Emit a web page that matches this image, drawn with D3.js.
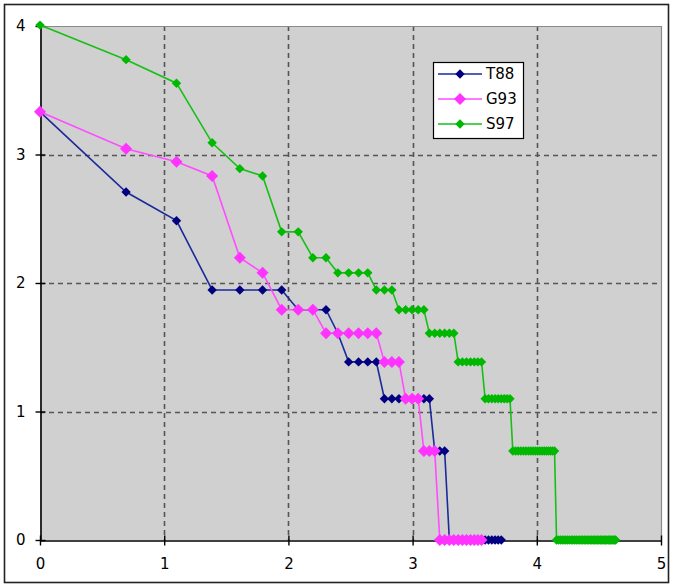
<!DOCTYPE html>
<html>
<head>
<meta charset="utf-8">
<script src="https://cdn.jsdelivr.net/npm/d3@7"></script>
<style>
  html, body { margin: 0; padding: 0; background: #fff; }
  svg { display: block; }
  text { font-family: "DejaVu Sans", Verdana, sans-serif; }
</style>
</head>
<body>
<svg id="chart" width="673" height="586"></svg>
<script>
// x positions (shared by all series, ln of rank)
const xValues = [0.000,0.693,1.099,1.386,1.609,1.792,1.946,2.079,2.197,2.303,
  2.398,2.485,2.565,2.639,2.708,2.773,2.833,2.890,2.944,2.996,
  3.045,3.091,3.135,3.178,3.219,3.258,3.296,3.332,3.367,3.401,
  3.434,3.466,3.497,3.526,3.555,3.584,3.611,3.638,3.664,3.689,
  3.714,3.738,3.761,3.784,3.807,3.829,3.850,3.871,3.892,3.912,
  3.932,3.951,3.970,3.989,4.007,4.025,4.043,4.060,4.078,4.094,
  4.111,4.127,4.143,4.159,4.174,4.190,4.205,4.220,4.234,4.248,
  4.263,4.277,4.290,4.304,4.317,4.331,4.344,4.357,4.369,4.382,
  4.394,4.407,4.419,4.431,4.443,4.454,4.466,4.477,4.489,4.500,
  4.511,4.522,4.533,4.543,4.554,4.564,4.575,4.585,4.595,4.605,
  4.615,4.625,4.635];

const seriesNames = ["T88", "G93", "S97"];

const t88Values = [3.332,2.708,2.485,1.946,1.946,1.946,1.946,1.792,1.792,1.792,
  1.609,1.386,1.386,1.386,1.386,1.099,1.099,1.099,1.099,1.099,
  1.099,1.099,1.099,0.693,0.693,0.693,0,0,0,0,
  0,0,0,0,0,0,0,0,0,0,
  0];

const g93Values = [3.332,3.045,2.944,2.833,2.197,2.079,1.792,1.792,1.792,1.609,
  1.609,1.609,1.609,1.609,1.609,1.386,1.386,1.386,1.099,1.099,
  1.099,0.693,0.693,0.693,0,0,0,0,0,0,
  0,0,0,0,0];

const s97Values = [4.007,3.738,3.555,3.091,2.890,2.833,2.398,2.398,2.197,2.197,
  2.079,2.079,2.079,2.079,1.946,1.946,1.946,1.792,1.792,1.792,
  1.792,1.792,1.609,1.609,1.609,1.609,1.609,1.609,1.386,1.386,
  1.386,1.386,1.386,1.386,1.386,1.099,1.099,1.099,1.099,1.099,
  1.099,1.099,1.099,1.099,0.693,0.693,0.693,0.693,0.693,0.693,
  0.693,0.693,0.693,0.693,0.693,0.693,0.693,0.693,0.693,0.693,
  0.693,0.693,0.693,0,0,0,0,0,0,0,
  0,0,0,0,0,0,0,0,0,0,
  0,0,0,0,0,0,0,0,0,0,
  0,0,0,0,0,0,0,0,0,0,
  0,0,0];

const xTicks = [0, 1, 2, 3, 4, 5];
const yTicks = [0, 1, 2, 3, 4];

const colors = ["#000080", "#ff33ff", "#00b800"];
const lineColors = ["#1a2a9a", "#ff4cff", "#16bf16"];
const markerSizes = [4.7, 6, 4.7];

const svg = d3.select("#chart");

const x = d3.scaleLinear().domain([0, 5]).range([40, 661]);
const y = d3.scaleLinear().domain([0, 4]).range([540, 26]);

// outer frame
svg.append("rect").attr("x", 4.5).attr("y", 4.5).attr("width", 664).attr("height", 578)
  .attr("fill", "#fff").attr("stroke", "#222").attr("stroke-width", 1.6);

// plot area
svg.append("rect").attr("x", x(0)).attr("y", y(4)).attr("width", x(5) - x(0)).attr("height", y(0) - y(4))
  .attr("fill", "#d0d0d0");

// gridlines
const grid = svg.append("g");
grid.selectAll(".vg").data(xTicks.filter(d => d > 0 && d < 5)).join("line")
  .attr("x1", d => Math.round(x(d)) + 0.5).attr("x2", d => Math.round(x(d)) + 0.5)
  .attr("y1", y(4)).attr("y2", y(0))
  .attr("stroke", "#555").attr("stroke-width", 1.6).attr("stroke-dasharray", "5,4");
grid.selectAll(".hg").data(yTicks.filter(d => d > 0 && d < 4)).join("line")
  .attr("y1", d => Math.round(y(d)) + 0.5).attr("y2", d => Math.round(y(d)) + 0.5)
  .attr("x1", x(0)).attr("x2", x(5))
  .attr("stroke", "#555").attr("stroke-width", 1.6).attr("stroke-dasharray", "5,4");

// plot area top/right border
svg.append("path")
  .attr("d", `M${x(0)},${Math.round(y(4)) + 0.5}H${Math.round(x(5)) + 0.5}V${y(0)}`)
  .attr("fill", "none").attr("stroke", "#8a8a8a").attr("stroke-width", 1.2);

// axes
const xAxis = svg.append("g").attr("transform", `translate(0,${Math.round(y(0)) + 0.5})`)
  .call(d3.axisBottom(x).tickValues(xTicks).tickFormat(d3.format("d")).tickSize(5).tickPadding(13).tickSizeOuter(0));
xAxis.selectAll(".tick line").attr("y1", -5).attr("y2", 5).attr("stroke-width", 1.4);
xAxis.select(".domain").attr("stroke-width", 1.6);

const yAxis = svg.append("g").attr("transform", `translate(${Math.round(x(0)) + 0.5},0)`)
  .call(d3.axisLeft(y).tickValues(yTicks).tickFormat(d3.format("d")).tickSize(5).tickPadding(10).tickSizeOuter(0));
yAxis.selectAll(".tick line").attr("x1", -5).attr("x2", 5).attr("stroke-width", 1.4);
yAxis.select(".domain").attr("stroke-width", 1.6);

svg.selectAll(".tick text").attr("font-size", 15).attr("fill", "#000")
  .attr("font-family", "DejaVu Sans, Verdana, sans-serif");

// series
const allValues = [t88Values, g93Values, s97Values];
const diamond = r => `M0,${-r}L${r},0L0,${r}L${-r},0Z`;
const line = d3.line().x(d => x(d[0])).y(d => y(d[1]));

allValues.forEach((vals, i) => {
  const pts = vals.map((v, k) => [xValues[k], v]);
  const g = svg.append("g");
  g.append("path").attr("d", line(pts)).attr("fill", "none")
    .attr("stroke", lineColors[i]).attr("stroke-width", 1.6);
  g.selectAll("path.m").data(pts).join("path").attr("class", "m")
    .attr("transform", d => `translate(${x(d[0])},${y(d[1])})`)
    .attr("d", diamond(markerSizes[i]))
    .attr("fill", colors[i]);
});

// legend
const lg = svg.append("g");
lg.append("rect").attr("x", 433.5).attr("y", 62.5).attr("width", 90).attr("height", 76)
  .attr("fill", "#fff").attr("stroke", "#000").attr("stroke-width", 1.2);
seriesNames.forEach((name, i) => {
  const cy = 74 + i * 25;
  lg.append("line").attr("x1", 438).attr("x2", 482).attr("y1", cy).attr("y2", cy)
    .attr("stroke", lineColors[i]).attr("stroke-width", 1.6);
  lg.append("path").attr("transform", `translate(460,${cy})`).attr("d", diamond(markerSizes[i]))
    .attr("fill", colors[i]);
  lg.append("text").attr("x", 486).attr("y", cy).attr("dy", "0.36em")
    .attr("font-size", 15).attr("fill", "#000").text(name);
});
</script>
</body>
</html>
